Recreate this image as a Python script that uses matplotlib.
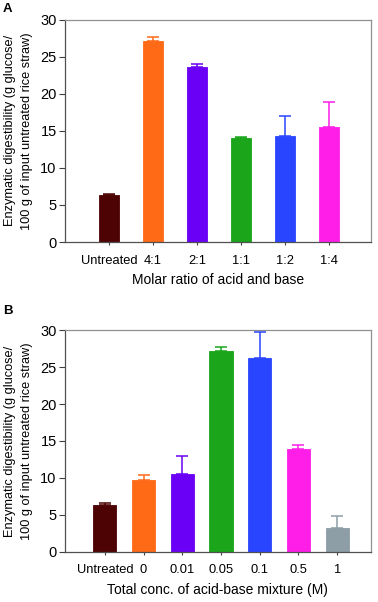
import matplotlib
matplotlib.use("Agg")
import matplotlib.pyplot as plt
import numpy as np

plt.rcParams['font.family'] = ['Liberation Sans', 'DejaVu Sans']

# Panel A - molar ratio of acid and base
labels_a = ["Untreated", "4:1", "2:1", "1:1", "1:2", "1:4"]
values_a = [6.3, 27.2, 23.7, 14.1, 14.3, 15.5]
errors_a = [0.2, 0.5, 0.3, 0.05, 2.7, 3.4]
colors_a = ["#4d0303", "#ff6a17", "#6a00f5", "#1aa51a", "#2a45ff", "#ff1ee8"]

# Panel B - total concentration of acid-base mixture
labels_b = ["Untreated", "0", "0.01", "0.05", "0.1", "0.5", "1"]
values_b = [6.3, 9.7, 10.5, 27.2, 26.2, 13.9, 3.2]
errors_b = [0.25, 0.75, 2.45, 0.55, 3.5, 0.6, 1.65]
colors_b = ["#4d0303", "#ff6a17", "#6a00f5", "#1aa51a", "#2a45ff", "#ff1ee8", "#8d9ea6"]

ylabel = "Enzymatic digestibility (g glucose/\n100 g of input untreated rice straw)"

fig = plt.figure(figsize=(3.78, 6.02), dpi=100)


def panel(rect, labels, values, errors, colors, width, xlim, xlabel, letter, letter_y):
    ax = fig.add_axes(rect)
    x = np.arange(len(labels))
    for xi, v, e, c in zip(x, values, errors, colors):
        ax.bar(xi, v, width=width, color=c, edgecolor=c, linewidth=0.6, zorder=2)
        ax.errorbar(xi, v, yerr=[[0], [e]], ecolor=c, elinewidth=1.1,
                    capsize=4.5, capthick=1.1, fmt="none", zorder=3)
    ax.set_xlim(*xlim)
    ax.set_ylim(0, 30)
    ax.set_yticks([0, 5, 10, 15, 20, 25, 30])
    ax.set_xticks(x)
    ax.set_xticklabels(labels)
    ax.tick_params(axis="y", direction="out", length=4, width=0.8,
                   labelsize=10.5, pad=2, color="#404040")
    ax.tick_params(axis="x", direction="out", length=2, width=0.8,
                   labelsize=9.3, pad=7, color="#404040")
    for s in ["left", "bottom"]:
        ax.spines[s].set_color("#505050")
        ax.spines[s].set_linewidth(0.9)
    for s in ["top", "right"]:
        ax.spines[s].set_color("#909090")
        ax.spines[s].set_linewidth(0.9)
    ax.set_xlabel(xlabel, fontsize=10, labelpad=5)
    pos = ax.get_position()
    fig.text(0.049, (pos.y0 + pos.y1) / 2, ylabel, rotation=90, ha="center",
             va="center", fontsize=9.2, linespacing=1.45)
    fig.text(0.008, letter_y, letter, fontsize=9.5, fontweight="bold",
             ha="left", va="top")
    return ax


panel([0.172, 0.598, 0.809, 0.369], labels_a, values_a, errors_a, colors_a,
      0.45, (-1.0, 5.95), "Molar ratio of acid and base", "A", 1 - 3 / 602)
panel([0.172, 0.0835, 0.809, 0.368], labels_b, values_b, errors_b, colors_b,
      0.6, (-1.03, 6.87), "Total conc. of acid-base mixture (M)", "B", 1 - 305 / 602)

fig.savefig("out.png", dpi=100)
